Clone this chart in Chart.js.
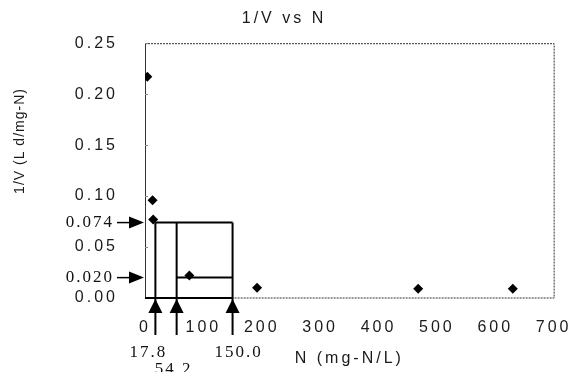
<!DOCTYPE html>
<html>
<head>
<meta charset="utf-8">
<title>1/V vs N</title>
<script src="https://cdn.jsdelivr.net/npm/chart.js@4/dist/chart.umd.min.js"></script>
<style>
  html, body { margin: 0; padding: 0; background: #fff; }
  #wrap { width: 587px; height: 372px; }
</style>
</head>
<body>
<div id="wrap"><canvas id="invChart"></canvas></div>
<script>
// values
const nValues = [4, 13, 14, 76, 192, 468, 630];          // N (mg-N/L)
const invV = [0.217, 0.096, 0.077, 0.022, 0.010, 0.009, 0.009]; // 1/V
const xTicks = [0, 100, 200, 300, 400, 500, 600, 700];
const yTicks = [0, 0.05, 0.10, 0.15, 0.20, 0.25];
// marked construction lines
const markN = [17.8, 54.2, 150.0];
const markNLabels = ['17.8', '54.2', '150.0'];
const markInv = [0.074, 0.020];
const markInvLabels = ['0.074', '0.020'];

const SANS = '"Liberation Sans", Arial, sans-serif';
const SERIF = '"Liberation Serif", "Times New Roman", serif';
const INK = '#1a1a1a';

const overlay = {
    id: 'overlay',
    beforeDraw(chart) {
        chart.ctx.letterSpacing = '3px';
    },
    beforeDatasetsDraw(chart) {
        const ctx = chart.ctx;
        const xs = chart.scales.x, ys = chart.scales.y;
        const area = chart.chartArea;
        const y0 = ys.getPixelForValue(0);
        const yTop = ys.getPixelForValue(markInv[0]);
        const yLow = ys.getPixelForValue(markInv[1]);
        const xEnd = xs.getPixelForValue(markN[2]);

        ctx.save();
        // plot frame (thin, dotted like the scan)
        ctx.strokeStyle = '#333';
        ctx.lineWidth = 1;
        ctx.setLineDash([2, 1]);
        ctx.beginPath();
        ctx.moveTo(area.left, area.top + 0.5);
        ctx.lineTo(area.right + 0.5, area.top + 0.5);
        ctx.lineTo(area.right + 0.5, area.bottom);
        ctx.lineTo(area.left, area.bottom);
        ctx.stroke();
        ctx.setLineDash([]);
        ctx.beginPath();
        ctx.moveTo(area.left + 0.5, area.top);
        ctx.lineTo(area.left + 0.5, area.bottom);
        ctx.stroke();

        // small inner ticks on y axis
        ctx.strokeStyle = '#888';
        yTicks.forEach(v => {
            const py = Math.round(ys.getPixelForValue(v)) + 0.5;
            ctx.beginPath();
            ctx.moveTo(area.left, py);
            ctx.lineTo(area.left + 3, py);
            ctx.stroke();
        });

        // construction lines
        ctx.strokeStyle = '#000';
        ctx.lineWidth = 2;
        ctx.beginPath();
        markN.forEach(n => {
            const px = xs.getPixelForValue(n);
            ctx.moveTo(px, y0 + 37);
            ctx.lineTo(px, yTop);
        });
        ctx.moveTo(xs.getPixelForValue(markN[0]), yTop);
        ctx.lineTo(xEnd, yTop);
        ctx.moveTo(xs.getPixelForValue(markN[1]), yLow);
        ctx.lineTo(xEnd, yLow);
        ctx.moveTo(area.left, y0);
        ctx.lineTo(xEnd, y0);
        ctx.stroke();

        // upward arrowheads under the x axis
        ctx.fillStyle = '#000';
        markN.forEach(n => {
            const px = xs.getPixelForValue(n);
            ctx.beginPath();
            ctx.moveTo(px, y0 + 1);
            ctx.lineTo(px - 7, y0 + 15);
            ctx.lineTo(px + 7, y0 + 15);
            ctx.closePath();
            ctx.fill();
        });

        // arrows pointing at the y axis
        markInv.forEach(v => {
            const py = ys.getPixelForValue(v);
            ctx.lineWidth = 1.5;
            ctx.beginPath();
            ctx.moveTo(area.left - 28, py);
            ctx.lineTo(area.left - 12, py);
            ctx.stroke();
            ctx.beginPath();
            ctx.moveTo(area.left - 1, py);
            ctx.lineTo(area.left - 16, py - 6);
            ctx.lineTo(area.left - 16, py + 6);
            ctx.closePath();
            ctx.fill();
        });
        ctx.restore();
    },
    afterDraw(chart) {
        const ctx = chart.ctx;
        const xs = chart.scales.x, ys = chart.scales.y;
        const area = chart.chartArea;
        const y0 = ys.getPixelForValue(0);

        ctx.save();
        ctx.fillStyle = '#111';
        ctx.font = '17px ' + SERIF;
        ctx.letterSpacing = '2px';
        ctx.textBaseline = 'middle';

        ctx.textAlign = 'right';
        markInv.forEach((v, i) => {
            ctx.fillText(markInvLabels[i], area.left - 31, ys.getPixelForValue(v));
        });

        ctx.textAlign = 'center';
        const dx = [-7, -3, 6];
        const dy = [55, 72, 55];
        markN.forEach((n, i) => {
            ctx.fillText(markNLabels[i], xs.getPixelForValue(n) + dx[i], y0 + dy[i]);
        });

        // y axis title, sits high on the left like the original
        ctx.fillStyle = INK;
        ctx.font = '14px ' + SANS;
        ctx.letterSpacing = '1px';
        ctx.translate(20, 141);
        ctx.rotate(-Math.PI / 2);
        ctx.fillText('1/V (L d/mg-N)', 0, 0);
        ctx.restore();
    }
};

const ctx = document.getElementById('invChart').getContext('2d');
new Chart(ctx, {
    type: 'scatter',
    data: {
        datasets: [{
            label: '1/V',
            data: nValues.map((n, i) => ({ x: n, y: invV[i] })),
            pointStyle: 'rectRot',
            pointRadius: 5,
            backgroundColor: '#000',
            borderColor: '#000',
            borderWidth: 0,
            showLine: false
        }]
    },
    options: {
        responsive: true,
        maintainAspectRatio: false,
        animation: false,
        layout: { padding: { top: 0, right: 19, bottom: 0, left: 0 } },
        plugins: {
            legend: { display: false },
            tooltip: { enabled: false },
            title: {
                display: true,
                text: '1/V vs N',
                color: INK,
                font: { family: SANS, size: 16, weight: 'normal' },
                padding: { top: 9, bottom: 15 }
            }
        },
        scales: {
            x: {
                type: 'linear',
                min: 0,
                max: 700,
                afterBuildTicks: scale => { scale.ticks = xTicks.map(v => ({ value: v })); },
                afterFit: scale => { scale.height = 74; },
                grid: { display: false, drawTicks: false },
                border: { display: false },
                ticks: {
                    color: INK,
                    font: { family: SANS, size: 16 },
                    padding: 20,
                    maxRotation: 0
                },
                title: {
                    display: true,
                    text: 'N (mg-N/L)',
                    color: INK,
                    font: { family: SANS, size: 16 },
                    padding: { top: 0, bottom: 4 }
                }
            },
            y: {
                type: 'linear',
                min: 0,
                max: 0.25,
                afterBuildTicks: scale => { scale.ticks = yTicks.map(v => ({ value: v })); },
                afterFit: scale => { scale.width = 145; },
                grid: { display: false, drawTicks: false },
                border: { display: false },
                ticks: {
                    color: INK,
                    font: { family: SANS, size: 16 },
                    padding: 27,
                    callback: v => v.toFixed(2)
                }
            }
        }
    },
    plugins: [overlay]
});
</script>
</body>
</html>
